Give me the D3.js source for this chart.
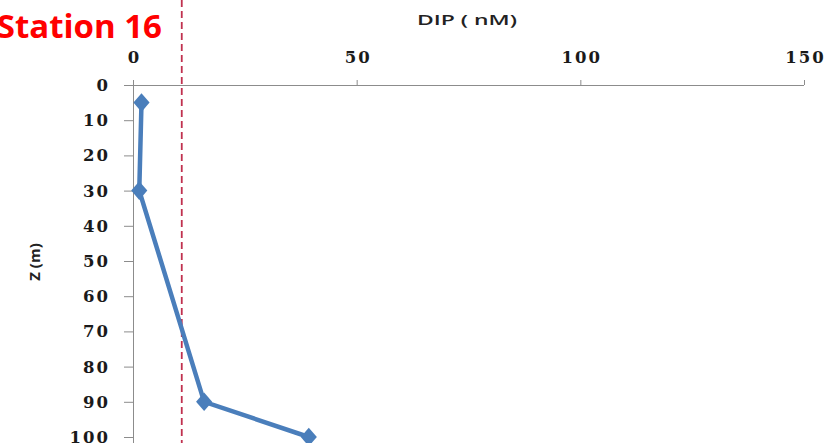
<!DOCTYPE html>
<html>
<head>
<meta charset="utf-8">
<script src="https://cdn.jsdelivr.net/npm/d3@7"></script>
<style>
  body { margin: 0; background: #fff; }
  svg { display: block; }
</style>
</head>
<body>
<div id="chart"></div>
<script>
// depth profile, station 16
const depth = [5, 30, 90, 100];
const dip = [1.9, 1.4, 15.9, 39.3];
const xTicks = [0, 50, 100, 150];
const yTicks = [0, 10, 20, 30, 40, 50, 60, 70, 80, 90, 100];
const refLine = [10.9];

let width = 829, height = 443;

let x = d3.scaleLinear().domain([0, 150]).range([133, 804]);
let y = d3.scaleLinear().domain([0, 100]).range([85, 437]);

let svg = d3.select("#chart").append("svg")
  .attr("width", width)
  .attr("height", height);

// x axis on top
let xAxis = svg.append("g")
  .attr("transform", "translate(0," + y(0) + ")")
  .call(d3.axisTop(x).tickValues(xTicks).tickSize(5).tickSizeOuter(0));
xAxis.select(".domain").attr("d", "M124,0.5H" + x(150));

// y axis
let yAxis = svg.append("g")
  .attr("transform", "translate(" + x(0) + ",0)")
  .call(d3.axisLeft(y).tickValues(yTicks).tickSize(9).tickSizeOuter(0));
yAxis.select(".domain").attr("d", "M0.5,80V443");

svg.selectAll(".domain, .tick line").attr("stroke", "#8c8c8c").attr("stroke-width", 1);
svg.selectAll(".tick text")
  .attr("fill", "#1a1a1a")
  .style("font-family", "DejaVu Serif")
  .style("font-weight", "bold")
  .style("font-size", "16.5px")
  .style("letter-spacing", "2px");
xAxis.selectAll(".tick text").attr("y", -22).attr("dx", "1px");
yAxis.selectAll(".tick text").attr("x", -23).attr("dy", "0.33em");

// reference line
svg.selectAll(".ref")
  .data(refLine)
  .enter().append("line")
  .attr("class", "ref")
  .attr("x1", d => x(d)).attr("x2", d => x(d))
  .attr("y1", 0).attr("y2", height)
  .attr("stroke", "#c0314f")
  .attr("stroke-width", 1.8)
  .attr("stroke-dasharray", "7,4");

// profile line
let pts = depth.map((d, i) => ({ z: d, v: dip[i] }));
let line = d3.line()
  .x(d => x(d.v))
  .y(d => y(d.z));

svg.append("path")
  .datum(pts)
  .attr("fill", "none")
  .attr("stroke", "#4a7ebb")
  .attr("stroke-width", 4.5)
  .attr("d", line);

svg.selectAll(".dot")
  .data(pts)
  .enter().append("path")
  .attr("class", "dot")
  .attr("transform", d => "translate(" + x(d.v) + "," + y(d.z) + ") scale(1.5,1)")
  .attr("d", d3.symbol().type(d3.symbolDiamond).size(100))
  .attr("fill", "#4a7ebb");

// titles
svg.append("text")
  .attr("x", 162).attr("y", 38)
  .attr("text-anchor", "end")
  .attr("fill", "#ff0000")
  .style("font-family", "Open Sans")
  .style("font-weight", "bold")
  .style("font-size", "33px")
  .text("Station 16");

svg.append("text")
  .attr("x", 417).attr("y", 25)
  .attr("fill", "#222")
  .attr("textLength", 100)
  .attr("lengthAdjust", "spacingAndGlyphs")
  .style("font-family", "Open Sans")
  .style("font-weight", "600")
  .style("font-size", "15px")
  .text("DIP ( nM)");

svg.append("text")
  .attr("transform", "translate(40,262) rotate(-90)")
  .attr("text-anchor", "middle")
  .attr("fill", "#222")
  .style("font-family", "Open Sans")
  .style("font-weight", "bold")
  .style("font-size", "15px")
  .text("Z (m)");
</script>
</body>
</html>
